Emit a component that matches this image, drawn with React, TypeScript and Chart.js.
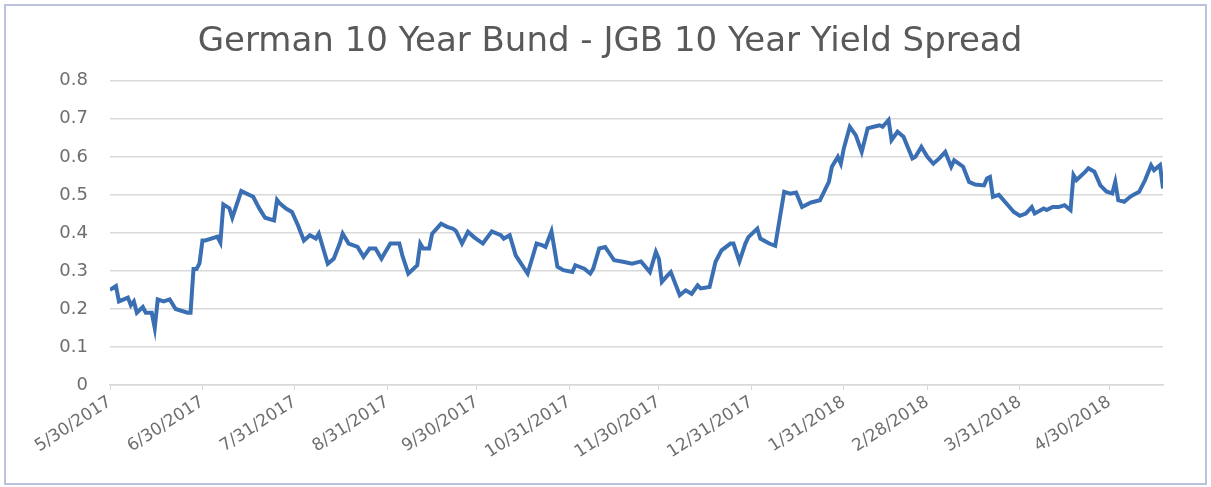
import React, { useEffect, useRef } from "react";
import { Chart, registerables } from "chart.js";

Chart.register(...registerables);

// Days since 5/30/2017 and the German 10Y Bund - JGB 10Y spread (%)
const days = [
  0, 2, 3, 6, 7, 8, 9, 11, 12, 14, 15, 16, 18, 20, 22, 26, 27, 28, 29, 30,
  31, 32, 36, 37, 38, 40, 41, 44, 48, 50, 52, 55, 56, 57, 59, 61, 63, 65, 67, 69,
  70, 73, 75, 77, 78, 80, 83, 85, 87, 89, 91, 92, 94, 97, 98, 100, 103, 104, 105, 107,
  108, 111, 113, 115, 116, 118, 120, 122, 125, 128, 131, 132, 134, 136, 140, 143, 145, 146, 148, 150,
  152, 155, 156, 159, 161, 162, 164, 166, 169, 172, 175, 178, 181, 183, 184, 185, 187, 188, 191, 193,
  195, 197, 198, 201, 203, 205, 208, 209, 211, 213, 214, 217, 218, 221, 223, 226, 228, 230, 232, 235,
  238, 241, 242, 244, 245, 246, 248, 250, 252, 254, 256, 258, 259, 261, 262, 264, 266, 269, 270, 272,
  274, 276, 278, 280, 282, 283, 286, 288, 290, 293, 294, 295, 296, 298, 300, 303, 305, 307, 309, 310,
  313, 314, 316, 318, 320, 322, 323, 324, 327, 328, 330, 332, 334, 336, 337, 338, 340, 342, 343, 345,
  347, 349, 350, 352, 353,
];

const spread = [
  0.25, 0.26, 0.22, 0.23, 0.21, 0.22, 0.19, 0.205, 0.19, 0.19, 0.15, 0.225, 0.22, 0.225, 0.2, 0.19, 0.19, 0.305, 0.305, 0.32,
  0.38, 0.38, 0.39, 0.375, 0.475, 0.465, 0.44, 0.51, 0.495, 0.465, 0.44, 0.433, 0.487, 0.477, 0.464, 0.455, 0.42, 0.38, 0.394, 0.385,
  0.398, 0.319, 0.332, 0.372, 0.398, 0.372, 0.363, 0.337, 0.359, 0.359, 0.332, 0.346, 0.372, 0.372, 0.341, 0.293, 0.315, 0.372, 0.359, 0.359,
  0.398, 0.424, 0.416, 0.411, 0.405, 0.372, 0.403, 0.389, 0.372, 0.404, 0.394, 0.385, 0.394, 0.341, 0.293, 0.372, 0.367, 0.363, 0.404, 0.311,
  0.302, 0.297, 0.315, 0.306, 0.293, 0.306, 0.359, 0.363, 0.328, 0.324, 0.319, 0.325, 0.297, 0.35, 0.332, 0.271, 0.289, 0.297, 0.236, 0.249,
  0.24, 0.262, 0.254, 0.258, 0.324, 0.354, 0.372, 0.372, 0.325, 0.372, 0.389, 0.411, 0.385, 0.372, 0.366, 0.508, 0.503, 0.506, 0.468, 0.48,
  0.486, 0.534, 0.574, 0.6, 0.582, 0.622, 0.679, 0.657, 0.613, 0.675, 0.679, 0.683, 0.679, 0.697, 0.644, 0.666, 0.653, 0.596, 0.6, 0.626,
  0.6, 0.582, 0.596, 0.613, 0.574, 0.591, 0.574, 0.534, 0.527, 0.525, 0.543, 0.547, 0.495, 0.5, 0.482, 0.455, 0.445, 0.451, 0.468, 0.451,
  0.464, 0.46, 0.468, 0.468, 0.473, 0.46, 0.552, 0.539, 0.561, 0.57, 0.561, 0.525, 0.509, 0.504, 0.534, 0.486, 0.482, 0.495, 0.5, 0.508,
  0.539, 0.578, 0.565, 0.578, 0.517,
];

const tickDays = [0, 31, 62, 93, 123, 154, 184, 215, 246, 274, 305, 335];
const tickLabels = [
  "5/30/2017", "6/30/2017", "7/31/2017", "8/31/2017", "9/30/2017", "10/31/2017",
  "11/30/2017", "12/31/2017", "1/31/2018", "2/28/2018", "3/31/2018", "4/30/2018",
];

const TITLE = "German 10 Year Bund - JGB 10 Year Yield Spread";
const FONT = "'DejaVu Sans', 'Liberation Sans', Arial, sans-serif";

export default function App() {
  const ref = useRef<HTMLCanvasElement>(null);

  useEffect(() => {
    if (!ref.current) return;
    const chart = new Chart(ref.current, {
      type: "line",
      data: {
        datasets: [
          {
            data: days.map((d, i) => ({ x: d, y: spread[i] })),
            borderColor: "#3b6fb3",
            borderWidth: 4,
            pointRadius: 0,
            tension: 0,
            fill: false,
          },
        ],
      },
      options: {
        animation: false,
        responsive: false,
        maintainAspectRatio: false,
        devicePixelRatio: 1,
        layout: { padding: { left: 57, right: 48, top: 0, bottom: 0 } },
        plugins: {
          legend: { display: false },
          tooltip: { enabled: false },
          title: {
            display: true,
            text: TITLE,
            color: "#595959",
            font: { family: FONT, size: 34, weight: "normal" },
            padding: { top: 22, bottom: 18 },
          },
        },
        scales: {
          x: {
            type: "linear",
            min: 0,
            max: 353,
            afterBuildTicks: (s: any) => {
              s.ticks = tickDays.map((v) => ({ value: v }));
            },
            afterFit: (s: any) => {
              s.height = 102;
            },
            grid: { drawOnChartArea: false, drawTicks: true, tickLength: 5, color: "#d9d9d9" },
            border: { color: "#d9d9d9", width: 1.5 },
            ticks: {
              autoSkip: false,
              maxRotation: 33,
              minRotation: 33,
              padding: 2,
              color: "#6e6e6e",
              font: { family: FONT, size: 17 },
              callback: (_v: any, i: number) => tickLabels[i],
            },
          },
          y: {
            min: 0,
            max: 0.8,
            afterFit: (s: any) => {
              s.width = 53;
            },
            ticks: {
              stepSize: 0.1,
              padding: 22,
              color: "#6e6e6e",
              font: { family: FONT, size: 18 },
              callback: (v: any) => (Number(v) === 0 ? "0" : Number(v).toFixed(1)),
            },
            grid: { color: "#d9d9d9", lineWidth: 1.5, drawTicks: false },
            border: { display: false },
          },
        },
      },
    });
    return () => chart.destroy();
  }, []);

  return (
    <div style={{ position: "absolute", left: 0, top: 0, width: 1211, height: 487, background: "#fff" }}>
      <canvas ref={ref} width={1211} height={487} style={{ display: "block" }} />
      <div
        style={{
          position: "absolute",
          left: 4,
          top: 4,
          width: 1199,
          height: 477,
          border: "2px solid #bcc2de",
          pointerEvents: "none",
        }}
      />
    </div>
  );
}
